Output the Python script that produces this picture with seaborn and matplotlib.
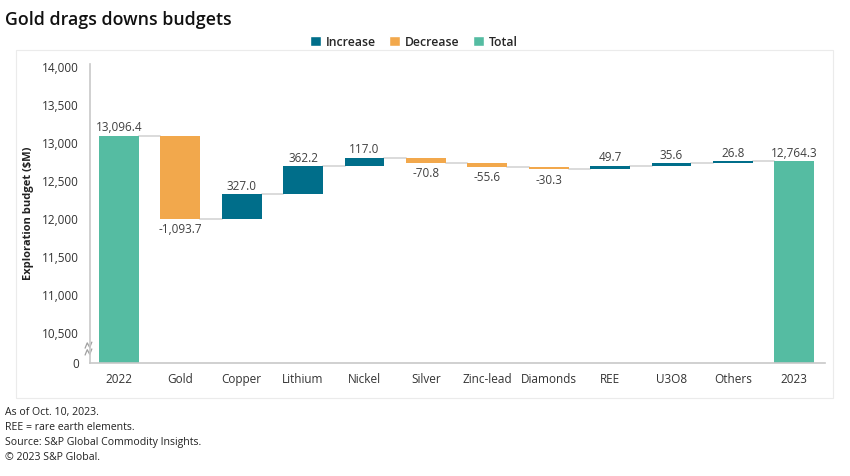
import numpy as np
import seaborn as sns
import matplotlib.pyplot as plt
from matplotlib.patches import Patch, Rectangle

categories = ['2022', 'Gold', 'Copper', 'Lithium', 'Nickel', 'Silver', 'Zinc-lead',
              'Diamonds', 'REE', 'U3O8', 'Others', '2023']
values = [13096.4, -1093.7, 327.0, 362.2, 117.0, -70.8, -55.6, -30.3, 49.7, 35.6, 26.8, 12764.3]
kinds = ['Total', 'Decrease', 'Increase', 'Increase', 'Increase', 'Decrease', 'Decrease',
         'Decrease', 'Increase', 'Increase', 'Increase', 'Total']
labels = ['13,096.4', '-1,093.7', '327.0', '362.2', '117.0', '-70.8', '-55.6', '-30.3',
          '49.7', '35.6', '26.8', '12,764.3']
ytick_vals = [10500, 11000, 11500, 12000, 12500, 13000, 13500, 14000]

colors = {'Increase': '#006E8A', 'Decrease': '#F2A84C', 'Total': '#55BCA2'}

# broken axis: bottom of the axis stands for 0
y_floor = 10105
y_top = 14040

# running totals -> floating bars
bottoms, heights, levels = [], [], []
run = 0.0
for v, k in zip(values, kinds):
    if k == 'Total':
        bottoms.append(y_floor)
        heights.append(v - y_floor)
        run = v
    else:
        bottoms.append(run)
        heights.append(v)
        run += v
    levels.append(run)

sns.set_theme(style='white')
plt.rcParams['font.family'] = ['Open Sans', 'DejaVu Sans']

fig = plt.figure(figsize=(8.5, 4.76), dpi=100)
ax = fig.add_axes([90 / 850, 1 - 363 / 476, (825 - 90) / 850, (363 - 64) / 476])

# outer light frame
fig.patches.append(Rectangle((16 / 850, 1 - 398 / 476), (833 - 16) / 850, (398 - 50) / 476,
                             transform=fig.transFigure, fill=False, edgecolor='#EBEBEB', lw=0.8))

sns.barplot(x=categories, y=heights, bottom=bottoms, ax=ax, errorbar=None,
            width=0.65, color=colors['Increase'], saturation=1)
for p, k in zip(ax.patches, kinds):
    p.set_facecolor(colors[k])
    p.set_edgecolor('none')

# connectors
w = 0.65
for i in range(len(categories) - 1):
    ax.plot([i + w / 2, i + 1 - w / 2], [levels[i], levels[i]], color='#DADADA', lw=1.4, zorder=0)

# value labels
for i, (b, h, k, lab) in enumerate(zip(bottoms, heights, kinds, labels)):
    top = max(b, b + h)
    bot = min(b, b + h)
    if k == 'Decrease':
        ax.annotate(lab, (i, bot), xytext=(0, -3), textcoords='offset points',
                    ha='center', va='top', fontsize=8.5, color='#404040')
    else:
        ax.annotate(lab, (i, top), xytext=(0, 1), textcoords='offset points',
                    ha='center', va='bottom', fontsize=8.5, color='#404040')

ax.set_xlim(-0.47, len(categories) - 0.5)
ax.set_ylim(y_floor, y_top)
ax.set_yticks([y_floor] + ytick_vals)
ax.set_yticklabels(['0'] + [f'{t:,}' for t in ytick_vals])
ax.tick_params(axis='both', length=0, labelsize=8.5, labelcolor='#333333')
ax.tick_params(axis='x', pad=7)
ax.tick_params(axis='y', pad=8)
for s in ['top', 'right']:
    ax.spines[s].set_visible(False)
for s in ['left', 'bottom']:
    ax.spines[s].set_color('#C8C8C8')
    ax.spines[s].set_linewidth(1.2)
ax.set_xlabel('')
ax.set_ylabel('Exploration budget (\\$M)', fontsize=8, fontweight='bold', color='#222222', labelpad=6)

# axis break mark
yb = y_floor + 190
for dy in (-45, 45):
    ax.plot([-0.55, -0.515, -0.475, -0.44], [yb + dy - 40, yb + dy + 30, yb + dy - 30, yb + dy + 40],
            transform=ax.transData, color='#A0A0A0', lw=0.9, clip_on=False)

# legend
handles = [Patch(facecolor=colors[k], label=k) for k in ['Increase', 'Decrease', 'Total']]
fig.legend(handles=handles, loc='center', bbox_to_anchor=(0.487, 1 - 42 / 476), ncol=3,
           frameon=False, handlelength=0.9, handleheight=0.9, handletextpad=0.4,
           columnspacing=1.1, prop={'weight': 'semibold', 'size': 8.8})

fig.text(5 / 850, 1 - 20 / 476, 'Gold drags downs budgets', fontsize=12.8, fontweight='semibold',
         va='center', ha='left', color='#111111')

notes = ['As of Oct. 10, 2023.', 'REE = rare earth elements.',
         'Source: S&P Global Commodity Insights.', '\u00a9 2023 S&P Global.']
for j, n in enumerate(notes):
    fig.text(5 / 850, 1 - (412 + j * 15.3) / 476, n, fontsize=7.6, va='center', ha='left',
             color='#222222')

fig.savefig('out.png', dpi=100)
